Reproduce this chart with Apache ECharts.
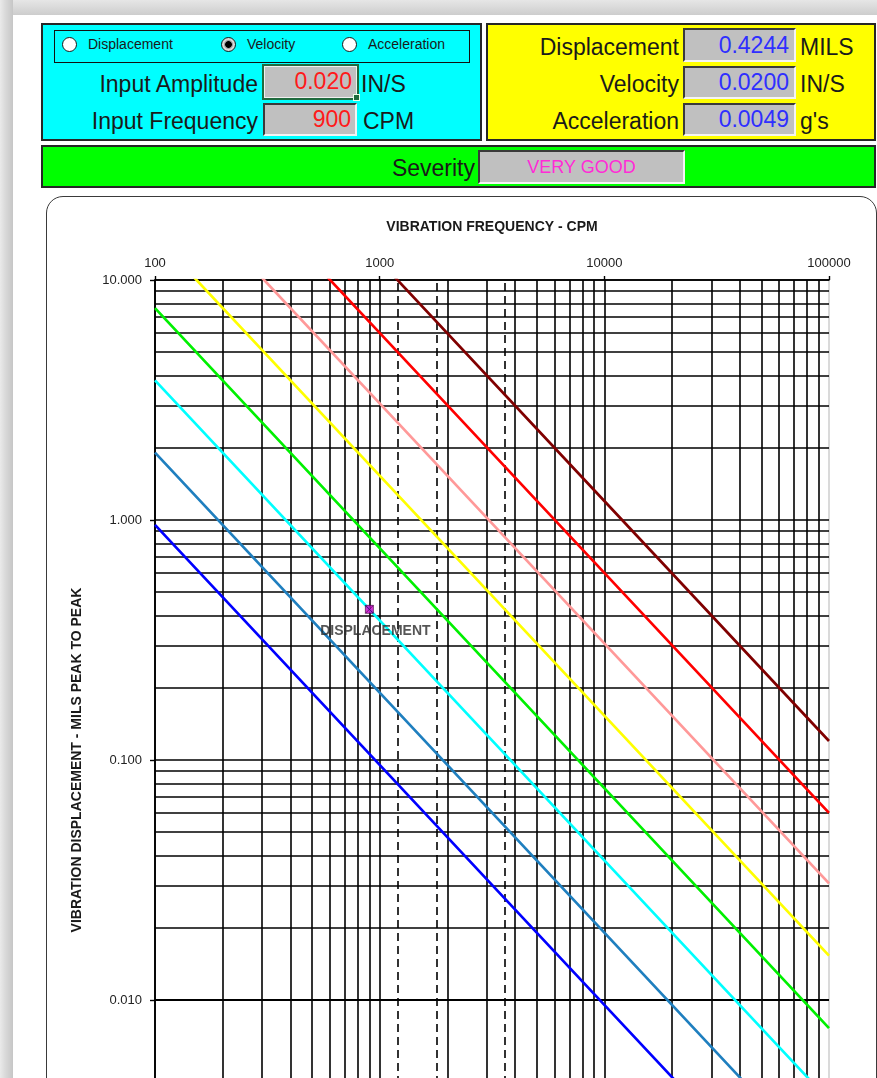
<!DOCTYPE html>
<html>
<head>
<meta charset="utf-8">
<script src="https://cdn.jsdelivr.net/npm/echarts@6/dist/echarts.min.js"></script>
<style>
  html, body { margin: 0; padding: 0; }
  body {
    width: 877px; height: 1078px; overflow: hidden; position: relative;
    background: #ffffff; font-family: "Liberation Sans", Arial, sans-serif; color: #1a1a1a;
  }
  .abs { position: absolute; box-sizing: border-box; }
  .frame-top { left: 0; top: 0; width: 877px; height: 15px;
    background: linear-gradient(to bottom, #e6e6e6 0px, #dcdcdc 6px, #cdcdcd 15px); }
  .frame-left { left: 0; top: 0; width: 13px; height: 1078px;
    background: linear-gradient(to right, #eaeaea 0px, #dadada 5px, #c6c6c6 13px); }
  .panel { border: 2px solid #262626; }
  .radio-box { border: 1.5px solid #111; }
  .radio { width: 15px; height: 15px; border-radius: 50%; background: #fff; border: 1.5px solid #1a1a1a; }
  .radio.on { background: radial-gradient(circle, #000 0 3px, #8a8a8a 3.6px, #d8d8d8 5px); }
  .rlabel { font-size: 14px; line-height: 16px; white-space: nowrap; }
  .lbl { font-size: 23px; line-height: 26px; white-space: nowrap; text-align: right; }
  .unit { font-size: 23px; line-height: 26px; white-space: nowrap; }
  .cell { background: #c0c0c0; border-top: 2px solid #3a3a3a; border-left: 2px solid #3a3a3a;
    border-right: 2px solid #f4f4f4; border-bottom: 2px solid #f4f4f4;
    font-size: 23px; text-align: right; padding-right: 4px; white-space: nowrap; }
  .red { color: #ff1a1a; }
  .blue { color: #2f2fff; }
  #chart { left: 0; top: 0; width: 877px; height: 1300px; }
</style>
</head>
<body>
<div class="abs frame-top"></div>
<div class="abs frame-left"></div>

<!-- input panel -->
<div class="abs panel" style="left:41px;top:23px;width:441px;height:118px;background:#00ffff;"></div>
<div class="abs radio-box" style="left:54px;top:30px;width:416px;height:33px;"></div>
<div class="abs radio" style="left:62px;top:37px;"></div>
<div class="abs rlabel" style="left:88px;top:36px;">Displacement</div>
<div class="abs radio on" style="left:221px;top:37px;"></div>
<div class="abs rlabel" style="left:247px;top:36px;">Velocity</div>
<div class="abs radio" style="left:342px;top:37px;"></div>
<div class="abs rlabel" style="left:368px;top:36px;">Acceleration</div>

<div class="abs lbl" style="left:50px;width:208px;top:71px;">Input Amplitude</div>
<div class="abs cell red" style="left:262px;top:64px;width:97px;height:36px;line-height:30px;border:2px solid #1f6b3e;box-shadow:inset 0 0 0 1px #f0f0f0;padding-right:5px;">0.020</div>
<div class="abs" style="left:353px;top:94px;width:7px;height:7px;background:#1f6b3e;border:1px solid #e8ffe8;"></div>
<div class="abs unit" style="left:361px;top:71px;">IN/S</div>

<div class="abs lbl" style="left:50px;width:208px;top:108px;">Input Frequency</div>
<div class="abs cell red" style="left:263px;top:103px;width:94px;height:33px;line-height:29px;">900</div>
<div class="abs unit" style="left:363px;top:108px;">CPM</div>

<!-- calculated results panel -->
<div class="abs panel" style="left:486px;top:23px;width:390px;height:118px;background:#ffff00;"></div>
<div class="abs lbl" style="left:490px;width:189px;top:34px;">Displacement</div>
<div class="abs cell blue" style="left:683px;top:28px;width:113px;height:34px;line-height:30px;padding-right:5px;">0.4244</div>
<div class="abs unit" style="left:800px;top:34px;">MILS</div>
<div class="abs lbl" style="left:490px;width:189px;top:71px;">Velocity</div>
<div class="abs cell blue" style="left:683px;top:66px;width:113px;height:33px;line-height:29px;padding-right:5px;">0.0200</div>
<div class="abs unit" style="left:800px;top:71px;">IN/S</div>
<div class="abs lbl" style="left:490px;width:189px;top:108px;">Acceleration</div>
<div class="abs cell blue" style="left:683px;top:103px;width:113px;height:33px;line-height:29px;padding-right:5px;">0.0049</div>
<div class="abs unit" style="left:800px;top:108px;">g's</div>

<!-- severity bar -->
<div class="abs panel" style="left:41px;top:145px;width:835px;height:43px;background:#00ff00;"></div>
<div class="abs lbl" style="left:300px;width:175px;top:155px;">Severity</div>
<div class="abs" style="left:478px;top:150px;width:207px;height:34px;background:#c0c0c0;border-top:2px solid #3a3a3a;border-left:2px solid #3a3a3a;border-right:2px solid #f4f4f4;border-bottom:2px solid #f4f4f4;color:#ff2bd6;font-size:18px;line-height:30px;text-align:center;">VERY GOOD</div>

<!-- chart frame -->
<div class="abs" style="left:46px;top:196px;width:831px;height:1200px;border:1.5px solid #3a3a3a;border-radius:17px;"></div>
<div id="chart" class="abs"></div>

<script>
// Frequency (CPM) at which each severity line is sampled
const freqPoints = [100, 1000, 10000, 100000];

// Displacement (mils pk-pk) of each constant-velocity severity line at freqPoints
const extremelySmooth = [0.955, 0.0955, 0.00955, 0.000955];
const verySmooth      = [1.91, 0.191, 0.0191, 0.00191];
const smooth          = [3.82, 0.382, 0.0382, 0.00382];
const veryGood        = [7.64, 0.764, 0.0764, 0.00764];
const good            = [15.3, 1.53, 0.153, 0.0153];
const fair            = [30.6, 3.06, 0.306, 0.0306];
const slightlyRough   = [60.2, 6.02, 0.602, 0.0602];
const rough           = [120, 12.0, 1.20, 0.120];

// Log grid positions
const gridFreqs = [100, 200, 300, 400, 500, 600, 700, 800, 900,
                   1000, 2000, 3000, 4000, 5000, 6000, 7000, 8000, 9000,
                   10000, 20000, 30000, 40000, 50000, 60000, 70000, 80000, 90000];
const gridDisps = [0.001, 0.002, 0.003, 0.004, 0.005, 0.006, 0.007, 0.008, 0.009,
                   0.01, 0.02, 0.03, 0.04, 0.05, 0.06, 0.07, 0.08, 0.09,
                   0.1, 0.2, 0.3, 0.4, 0.5, 0.6, 0.7, 0.8, 0.9,
                   1, 2, 3, 4, 5, 6, 7, 8, 9, 10];
// Machine running speeds (RPM) shown as dashed references
const runningSpeeds = [1200, 1800, 3600];

// Measured point
const measuredFreq = 900;
const measuredDisp = 0.4244;
const measuredLabel = 'DISPLACEMENT';

const bands = [
  { name: 'Extremely smooth', values: extremelySmooth, color: '#0000ff' },
  { name: 'Very smooth',      values: verySmooth,      color: '#1f7fbf' },
  { name: 'Smooth',           values: smooth,          color: '#00ffff' },
  { name: 'Very good',        values: veryGood,        color: '#00f000' },
  { name: 'Good',             values: good,            color: '#ffff00' },
  { name: 'Fair',             values: fair,            color: '#ff9999' },
  { name: 'Slightly rough',   values: slightlyRough,   color: '#ff0000' },
  { name: 'Rough',            values: rough,           color: '#800000' }
];

const FONT = '"Liberation Sans", Arial, sans-serif';

const chart = echarts.init(document.getElementById('chart'), null, { renderer: 'canvas' });

const gridLineData = []
  .concat(gridFreqs.map(v => ({ xAxis: v })))
  .concat(gridDisps.map(v => ({ yAxis: v })))
  .concat(runningSpeeds.map(v => ({ xAxis: v, lineStyle: { type: [8, 5] } })));

const series = [{
  type: 'line',
  name: 'grid',
  data: [],
  silent: true,
  markLine: {
    silent: true,
    z: 1,
    animation: false,
    symbol: ['none', 'none'],
    label: { show: false },
    emphasis: { disabled: true },
    lineStyle: { color: '#000', width: 1.6, type: 'solid', opacity: 1 },
    data: gridLineData
  }
}];

bands.forEach(b => {
  series.push({
    type: 'line',
    name: b.name,
    z: 3,
    clip: true,
    silent: true,
    symbol: 'none',
    lineStyle: { color: b.color, width: 2.7 },
    data: freqPoints.map((f, i) => [f, b.values[i]])
  });
});

series.push({
  type: 'scatter',
  name: 'measured',
  z: 5,
  symbol: 'path://M0,0H10V10H0Z M0,0L10,10 M10,0L0,10',
  symbolSize: 8,
  itemStyle: { color: '#cc00cc', borderColor: '#3a003a', borderWidth: 0.8 },
  label: {
    show: true,
    position: 'bottom',
    distance: 10,
    offset: [6, 0],
    formatter: measuredLabel,
    fontFamily: FONT,
    fontSize: 14,
    fontWeight: 'bold',
    color: '#2a2a2a'
  },
  data: [[measuredFreq, measuredDisp]]
});

chart.setOption({
  animation: false,
  backgroundColor: 'transparent',
  grid: {
    left: 155, top: 280, width: 674, height: 960,
    show: true, borderColor: '#b5b5b5', borderWidth: 1,
    backgroundColor: 'transparent',
    containLabel: false, outerBoundsMode: 'none'
  },
  xAxis: {
    type: 'log', logBase: 10, min: 100, max: 100000, position: 'top',
    name: 'VIBRATION FREQUENCY - CPM', nameLocation: 'middle', nameGap: 46,
    nameTextStyle: { fontFamily: FONT, fontSize: 14, fontWeight: 'bold', color: '#1a1a1a' },
    axisLine: { show: true, lineStyle: { color: '#000', width: 1.6 } },
    axisTick: { show: true, inside: false, length: 4, lineStyle: { color: '#000', width: 1.4 } },
    axisLabel: { margin: 10, fontFamily: FONT, fontSize: 13, color: '#222',
      formatter: v => String(Math.round(v)) },
    splitLine: { show: false },
    minorTick: { show: false },
    minorSplitLine: { show: false }
  },
  yAxis: {
    type: 'log', logBase: 10, min: 0.001, max: 10,
    name: 'VIBRATION DISPLACEMENT - MILS PEAK TO PEAK', nameLocation: 'middle', nameGap: 71, nameRotate: 90,
    nameTextStyle: { fontFamily: FONT, fontSize: 14, fontWeight: 'bold', color: '#1a1a1a' },
    axisLine: { show: true, lineStyle: { color: '#000', width: 1.6 } },
    axisTick: { show: true, inside: false, length: 5, lineStyle: { color: '#000', width: 1.4 } },
    axisLabel: { margin: 13, fontFamily: FONT, fontSize: 13, color: '#222',
      formatter: v => v.toFixed(3) },
    splitLine: { show: false },
    minorTick: { show: false },
    minorSplitLine: { show: false }
  },
  series: series
});
</script>
</body>
</html>
